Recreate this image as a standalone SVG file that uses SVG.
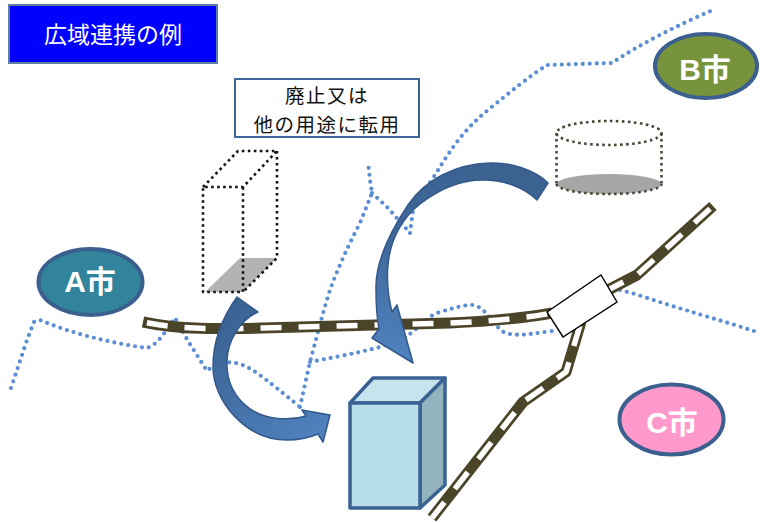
<svg xmlns="http://www.w3.org/2000/svg" width="760" height="523" viewBox="0 0 760 523">
  <defs>
    <style>
      .border { fill: none; stroke: #5b8ed4; stroke-width: 4.2; stroke-linecap: round; stroke-linejoin: round; stroke-dasharray: 0 7; }
      .rail-bed { fill: none; stroke: #4a4529; stroke-width: 11; stroke-linejoin: round; }
      .rail-tie { fill: none; stroke: #ffffff; stroke-width: 5.5; stroke-dasharray: 21 17; stroke-dashoffset: -4; stroke-linejoin: round; }
      .ghost { fill: none; stroke: #111111; stroke-width: 2.6; stroke-dasharray: 2.6 3.4; stroke-linejoin: round; }
      .ghost-cyl { fill: none; stroke: #4a4536; stroke-width: 2.6; stroke-dasharray: 2.6 3.4; }
      .city { stroke: #3b5f8f; stroke-width: 4; }
      .city-label { font-family: "Liberation Sans", "Noto Sans CJK JP", sans-serif; font-size: 30px; font-weight: bold; fill: #ffffff; text-anchor: middle; }
      .jp { font-family: "Noto Sans CJK JP", sans-serif; text-anchor: middle; }
      .bldg { stroke: #3a6292; stroke-width: 3.5; stroke-linejoin: round; }
      .arrow { stroke: #33598a; stroke-width: 1.5; stroke-linejoin: round; }
    </style>
    <linearGradient id="arrowShadeA" gradientUnits="userSpaceOnUse" x1="240" y1="300" x2="320" y2="430">
      <stop offset="0" stop-color="#3b6291"/>
      <stop offset="0.55" stop-color="#4470a6"/>
      <stop offset="1" stop-color="#4f81bd"/>
    </linearGradient>
    <linearGradient id="arrowShadeB" gradientUnits="userSpaceOnUse" x1="480" y1="165" x2="395" y2="355">
      <stop offset="0" stop-color="#3b6291"/>
      <stop offset="0.5" stop-color="#3f6799"/>
      <stop offset="1" stop-color="#4f81bd"/>
    </linearGradient>
  </defs>

  <rect width="760" height="523" fill="#ffffff"/>

  <!-- municipal boundaries (dotted) -->
  <g id="boundaries">
    <path class="border" d="M11,388 L18,367 L27,340 L34,322 L40,320 C70,333 110,343 147,348 C160,344 168,326 175,318 L188,341 L207,371 C215,364 226,361 236,363 C250,366 262,376 300,407"/>
    <path class="border" d="M300,407 L310,362 C316,340 322,315 330,290 C338,268 348,246 360,223 L372,193 L370,180 L368,162"/>
    <path class="border" d="M372,193 L387,207 L410,233"/>
    <path class="border" d="M410,233 L413,210 C418,198 424,190 432,180 C444,160 452,148 460,138 C470,126 478,118 488,110 C510,92 530,76 547,65 L612,63 C640,44 680,24 713,10"/>
    <path class="border" d="M310,362 C345,355 380,349 400,340 C415,333 425,318 437,313 C450,309 462,305 472,305 C486,306 492,325 505,333 C520,337 535,333 552,331"/>
    <path class="border" d="M620,290 L635,294 C680,309 720,320 757,332"/>
  </g>

  <!-- railway lines -->
  <g id="railway">
    <path class="rail-bed" d="M143,322 C180,330 220,329 262,328 L450,323 C495,321 525,318 552,313"/>
    <path class="rail-tie" d="M143,322 C180,330 220,329 262,328 L450,323 C495,321 525,318 552,313"/>
    <path class="rail-bed" d="M608,290 L637,275 L713,206"/>
    <path class="rail-tie" d="M713,206 L637,275 L608,290"/>
    <path class="rail-bed" d="M581,322 L566,372 L523,402 L432,518"/>
    <path class="rail-tie" d="M581,322 L566,372 L523,402 L432,518"/>
  </g>

  <g id="station">
    <polygon points="547,312 601,275 617,302 563,337" fill="#ffffff" stroke="#000000" stroke-width="1.4"/>
  </g>

  <!-- facility to be closed or converted -->
  <g id="old-facility">
    <polygon points="205,292 243,292 277,258 240,258" fill="#b3b3b3"/>
    <polyline class="ghost" points="203,187 238,151 277,151 243,187 203,187 203,292 243,292 243,187"/>
    <polyline class="ghost" points="277,151 277,258 243,292"/>
  </g>

  <g id="tank">
    <ellipse cx="609" cy="184" rx="52.5" ry="10" fill="#a6a6a6"/>
    <path class="ghost-cyl" d="M556.5,184 A52.5,10 0 0 0 661.5,184"/>
    <ellipse class="ghost-cyl" cx="609" cy="133" rx="52.5" ry="12"/>
    <line class="ghost-cyl" x1="556.5" y1="133" x2="556.5" y2="184"/>
    <line class="ghost-cyl" x1="661.5" y1="133" x2="661.5" y2="184"/>
  </g>

  <!-- shared facility -->
  <g id="shared-facility">
    <polygon class="bldg" points="350,403 373,378 445,378 420,403" fill="#c6e4ed"/>
    <polygon class="bldg" points="420,403 445,378 445,485 420,508" fill="#93b3be"/>
    <rect class="bldg" x="350" y="403" width="70" height="105" fill="#b7dde8"/>
  </g>

  <!-- transfer arrows -->
  <g id="arrows">
    <path class="arrow" fill="url(#arrowShadeA)" d="M237,297 C224,315 213,340 213,367 C213,400 245,440 287,440 C300,440 311,437 318,434 L323,442 L330,415 L302,410 L306,416 C290,421 265,420 249,408 C233,396 226,380 227,360 C228,340 240,320 258,312 Z"/>
    <path class="arrow" fill="url(#arrowShadeB)" d="M548,183 C535,170 510,162 490,163 C455,164 425,180 408,205 C388,235 375,265 376,290 C376,305 377,318 379,329 L372,338 L413,363 L397,305 L392,312 C389,300 386,285 388,265 C390,240 402,218 420,204 C438,190 460,180 483,180 C505,180 525,188 537,200 Z"/>
  </g>

  <!-- cities -->
  <g id="city-a">
    <ellipse class="city" cx="90.5" cy="282" rx="52" ry="33" fill="#31849b"/>
    <text class="city-label" x="90" y="292">A市</text>
  </g>
  <g id="city-b">
    <ellipse class="city" cx="706" cy="66" rx="51" ry="32" fill="#77933c"/>
    <text class="city-label" x="705" y="80">B市</text>
  </g>
  <g id="city-c">
    <ellipse class="city" cx="671.5" cy="419.5" rx="52" ry="35" fill="#ff99cc"/>
    <text class="city-label" x="672" y="433">C市</text>
  </g>

  <!-- labels -->
  <g id="title">
    <rect x="9" y="5" width="208" height="58" fill="#0000ff" stroke="#5f7ea0" stroke-width="2"/>
    <text class="jp" x="113" y="43" font-size="23" fill="#ffffff">広域連携の例</text>
  </g>
  <g id="note">
    <rect x="235" y="79" width="184" height="58" fill="#ffffff" stroke="#3c6496" stroke-width="2"/>
    <text class="jp" x="327" y="103" font-size="19.5" letter-spacing="1.5" fill="#111111">廃止又は</text>
    <text class="jp" x="327" y="131.5" font-size="19.5" letter-spacing="1.5" fill="#111111">他の用途に転用</text>
  </g>
</svg>
